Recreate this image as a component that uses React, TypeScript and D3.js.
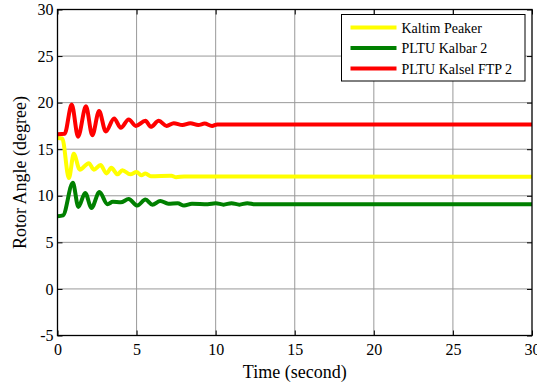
import { useRef, useEffect } from 'react';
import * as d3 from 'd3';

// Kaltim Peaker
const yellowTime = [0, 0.3, 0.72, 1.03, 1.41, 1.98, 2.3, 2.72, 3.1, 3.4, 3.8, 4.1, 4.6, 5.0, 5.3, 5.56, 5.9, 7.2, 7.5, 8.0, 30];
const yellowValue = [16.2, 16.15, 11.9, 14.5, 12.8, 13.5, 12.8, 13.3, 12.4, 13.0, 12.3, 12.75, 12.3, 12.55, 12.2, 12.4, 12.1, 12.15, 12.0, 12.08, 12.05];

// PLTU Kalbar 2
const greenTime = [0, 0.35, 0.97, 1.32, 1.75, 2.15, 2.65, 3.16, 3.5, 4.0, 4.5, 5.05, 5.56, 6.0, 6.5, 7.0, 7.6, 8.0, 8.5, 9.5, 10.0, 10.5, 11.0, 11.5, 12.0, 12.5, 30];
const greenValue = [7.8, 7.9, 11.4, 8.8, 10.3, 8.7, 10.4, 9.1, 9.35, 9.3, 9.65, 8.95, 9.6, 9.05, 9.45, 9.15, 9.2, 8.95, 9.15, 9.1, 9.2, 9.05, 9.2, 9.05, 9.2, 9.08, 9.08];

// PLTU Kalsel FTP 2
const redTime = [0, 0.45, 0.9, 1.3, 1.8, 2.2, 2.63, 3.05, 3.58, 4.0, 4.5, 4.95, 5.56, 5.9, 6.4, 6.9, 7.35, 7.9, 8.4, 8.9, 9.3, 9.77, 10.1, 30];
const redValue = [16.6, 16.65, 19.8, 16.35, 19.6, 16.5, 19.1, 16.9, 18.3, 17.3, 18.2, 17.5, 18.05, 17.4, 18.05, 17.5, 17.8, 17.6, 17.8, 17.6, 17.75, 17.5, 17.65, 17.65];

const seriesNames = ['Kaltim Peaker', 'PLTU Kalbar 2', 'PLTU Kalsel FTP 2'];
const seriesColors = ['#ffff00', '#008000', '#ff0000'];

const xTicks = [0, 5, 10, 15, 20, 25, 30];
const yTicks = [-5, 0, 5, 10, 15, 20, 25, 30];

export default function App() {
    const ref = useRef<SVGSVGElement | null>(null);

    useEffect(() => {
        const width = 537;
        const height = 383;
        const margin = { top: 9.5, right: 5, bottom: 47.5, left: 57.5 };
        const w = width - margin.left - margin.right;
        const h = height - margin.top - margin.bottom;
        const font = '"Liberation Serif", "Times New Roman", serif';

        const root = d3.select(ref.current);
        root.selectAll('*').remove();

        const svg = root
            .attr('width', width)
            .attr('height', height)
            .append('g')
            .attr('transform', `translate(${margin.left},${margin.top})`);

        const x = d3.scaleLinear().domain([0, 30]).range([0, w]);
        const y = d3.scaleLinear().domain([-5, 30]).range([h, 0]);

        svg.append('rect')
            .attr('width', w)
            .attr('height', h)
            .attr('fill', '#fff');

        // grid
        svg.append('g')
            .selectAll('line')
            .data(xTicks.slice(1, -1))
            .enter()
            .append('line')
            .attr('x1', d => x(d))
            .attr('x2', d => x(d))
            .attr('y1', 0)
            .attr('y2', h)
            .attr('stroke', '#999')
            .attr('stroke-width', 1);

        svg.append('g')
            .selectAll('line')
            .data(yTicks.slice(1, -1))
            .enter()
            .append('line')
            .attr('x1', 0)
            .attr('x2', w)
            .attr('y1', d => y(d))
            .attr('y2', d => y(d))
            .attr('stroke', '#999')
            .attr('stroke-width', 1);

        // lines
        const series = [
            { t: yellowTime, v: yellowValue },
            { t: greenTime, v: greenValue },
            { t: redTime, v: redValue },
        ];
        const line = d3.line<[number, number]>()
            .x(d => x(d[0]))
            .y(d => y(d[1]))
            .curve(d3.curveMonotoneX);

        series.forEach((s, i) => {
            const pts = s.t.map((t, k) => [t, s.v[k]] as [number, number]);
            svg.append('path')
                .datum(pts)
                .attr('d', line)
                .attr('fill', 'none')
                .attr('stroke', seriesColors[i])
                .attr('stroke-width', 4)
                .attr('stroke-linejoin', 'round');
        });

        // axes (inward ticks on all sides)
        const fmt = (d: d3.NumberValue) => String(d);
        const xAxis = svg.append('g')
            .attr('transform', `translate(0,${h})`)
            .call(d3.axisBottom(x).tickValues(xTicks).tickFormat(fmt).tickSize(-5).tickPadding(8).tickSizeOuter(0));
        const yAxis = svg.append('g')
            .call(d3.axisLeft(y).tickValues(yTicks).tickFormat(fmt).tickSize(-5).tickPadding(4).tickSizeOuter(0));
        svg.append('g')
            .call(d3.axisTop(x).tickValues(xTicks).tickSize(-5).tickFormat(() => '').tickSizeOuter(0));
        svg.append('g')
            .attr('transform', `translate(${w},0)`)
            .call(d3.axisRight(y).tickValues(yTicks).tickSize(-5).tickFormat(() => '').tickSizeOuter(0));

        svg.selectAll('.domain').remove();
        svg.selectAll('.tick line').attr('stroke', '#000');
        [xAxis, yAxis].forEach(a => {
            a.attr('font-family', null).attr('font-size', null);
            a.selectAll('text')
                .style('font-family', font)
                .style('font-size', '16px')
                .attr('fill', '#000');
        });

        svg.append('rect')
            .attr('width', w)
            .attr('height', h)
            .attr('fill', 'none')
            .attr('stroke', '#000')
            .attr('stroke-width', 1.3);

        // legend
        const lg = svg.append('g').attr('transform', `translate(${341.5 - margin.left},${14.5 - margin.top})`);
        lg.append('rect')
            .attr('width', 183.5)
            .attr('height', 66.5)
            .attr('fill', '#fff')
            .attr('stroke', '#000')
            .attr('stroke-width', 1);
        seriesNames.forEach((name, i) => {
            const cy = 13 + i * 20.5;
            lg.append('line')
                .attr('x1', 9)
                .attr('x2', 55)
                .attr('y1', cy)
                .attr('y2', cy)
                .attr('stroke', seriesColors[i])
                .attr('stroke-width', 4);
            lg.append('text')
                .attr('x', 60)
                .attr('y', cy + 5)
                .style('font-family', font)
                .style('font-size', '14px')
                .attr('fill', '#000')
                .text(name);
        });

        // axis titles
        svg.append('text')
            .attr('x', w / 2)
            .attr('y', h + 42)
            .attr('text-anchor', 'middle')
            .style('font-family', font)
            .style('font-size', '18px')
            .attr('fill', '#000')
            .text('Time (second)');

        svg.append('text')
            .attr('transform', `translate(${26 - margin.left},${h / 2}) rotate(-90)`)
            .attr('text-anchor', 'middle')
            .style('font-family', font)
            .style('font-size', '18px')
            .attr('fill', '#000')
            .text('Rotor Angle (degree)');
    }, []);

    return (
        <svg ref={ref} style={{ position: 'fixed', left: 0, top: 0, background: '#fff' }} />
    );
}
